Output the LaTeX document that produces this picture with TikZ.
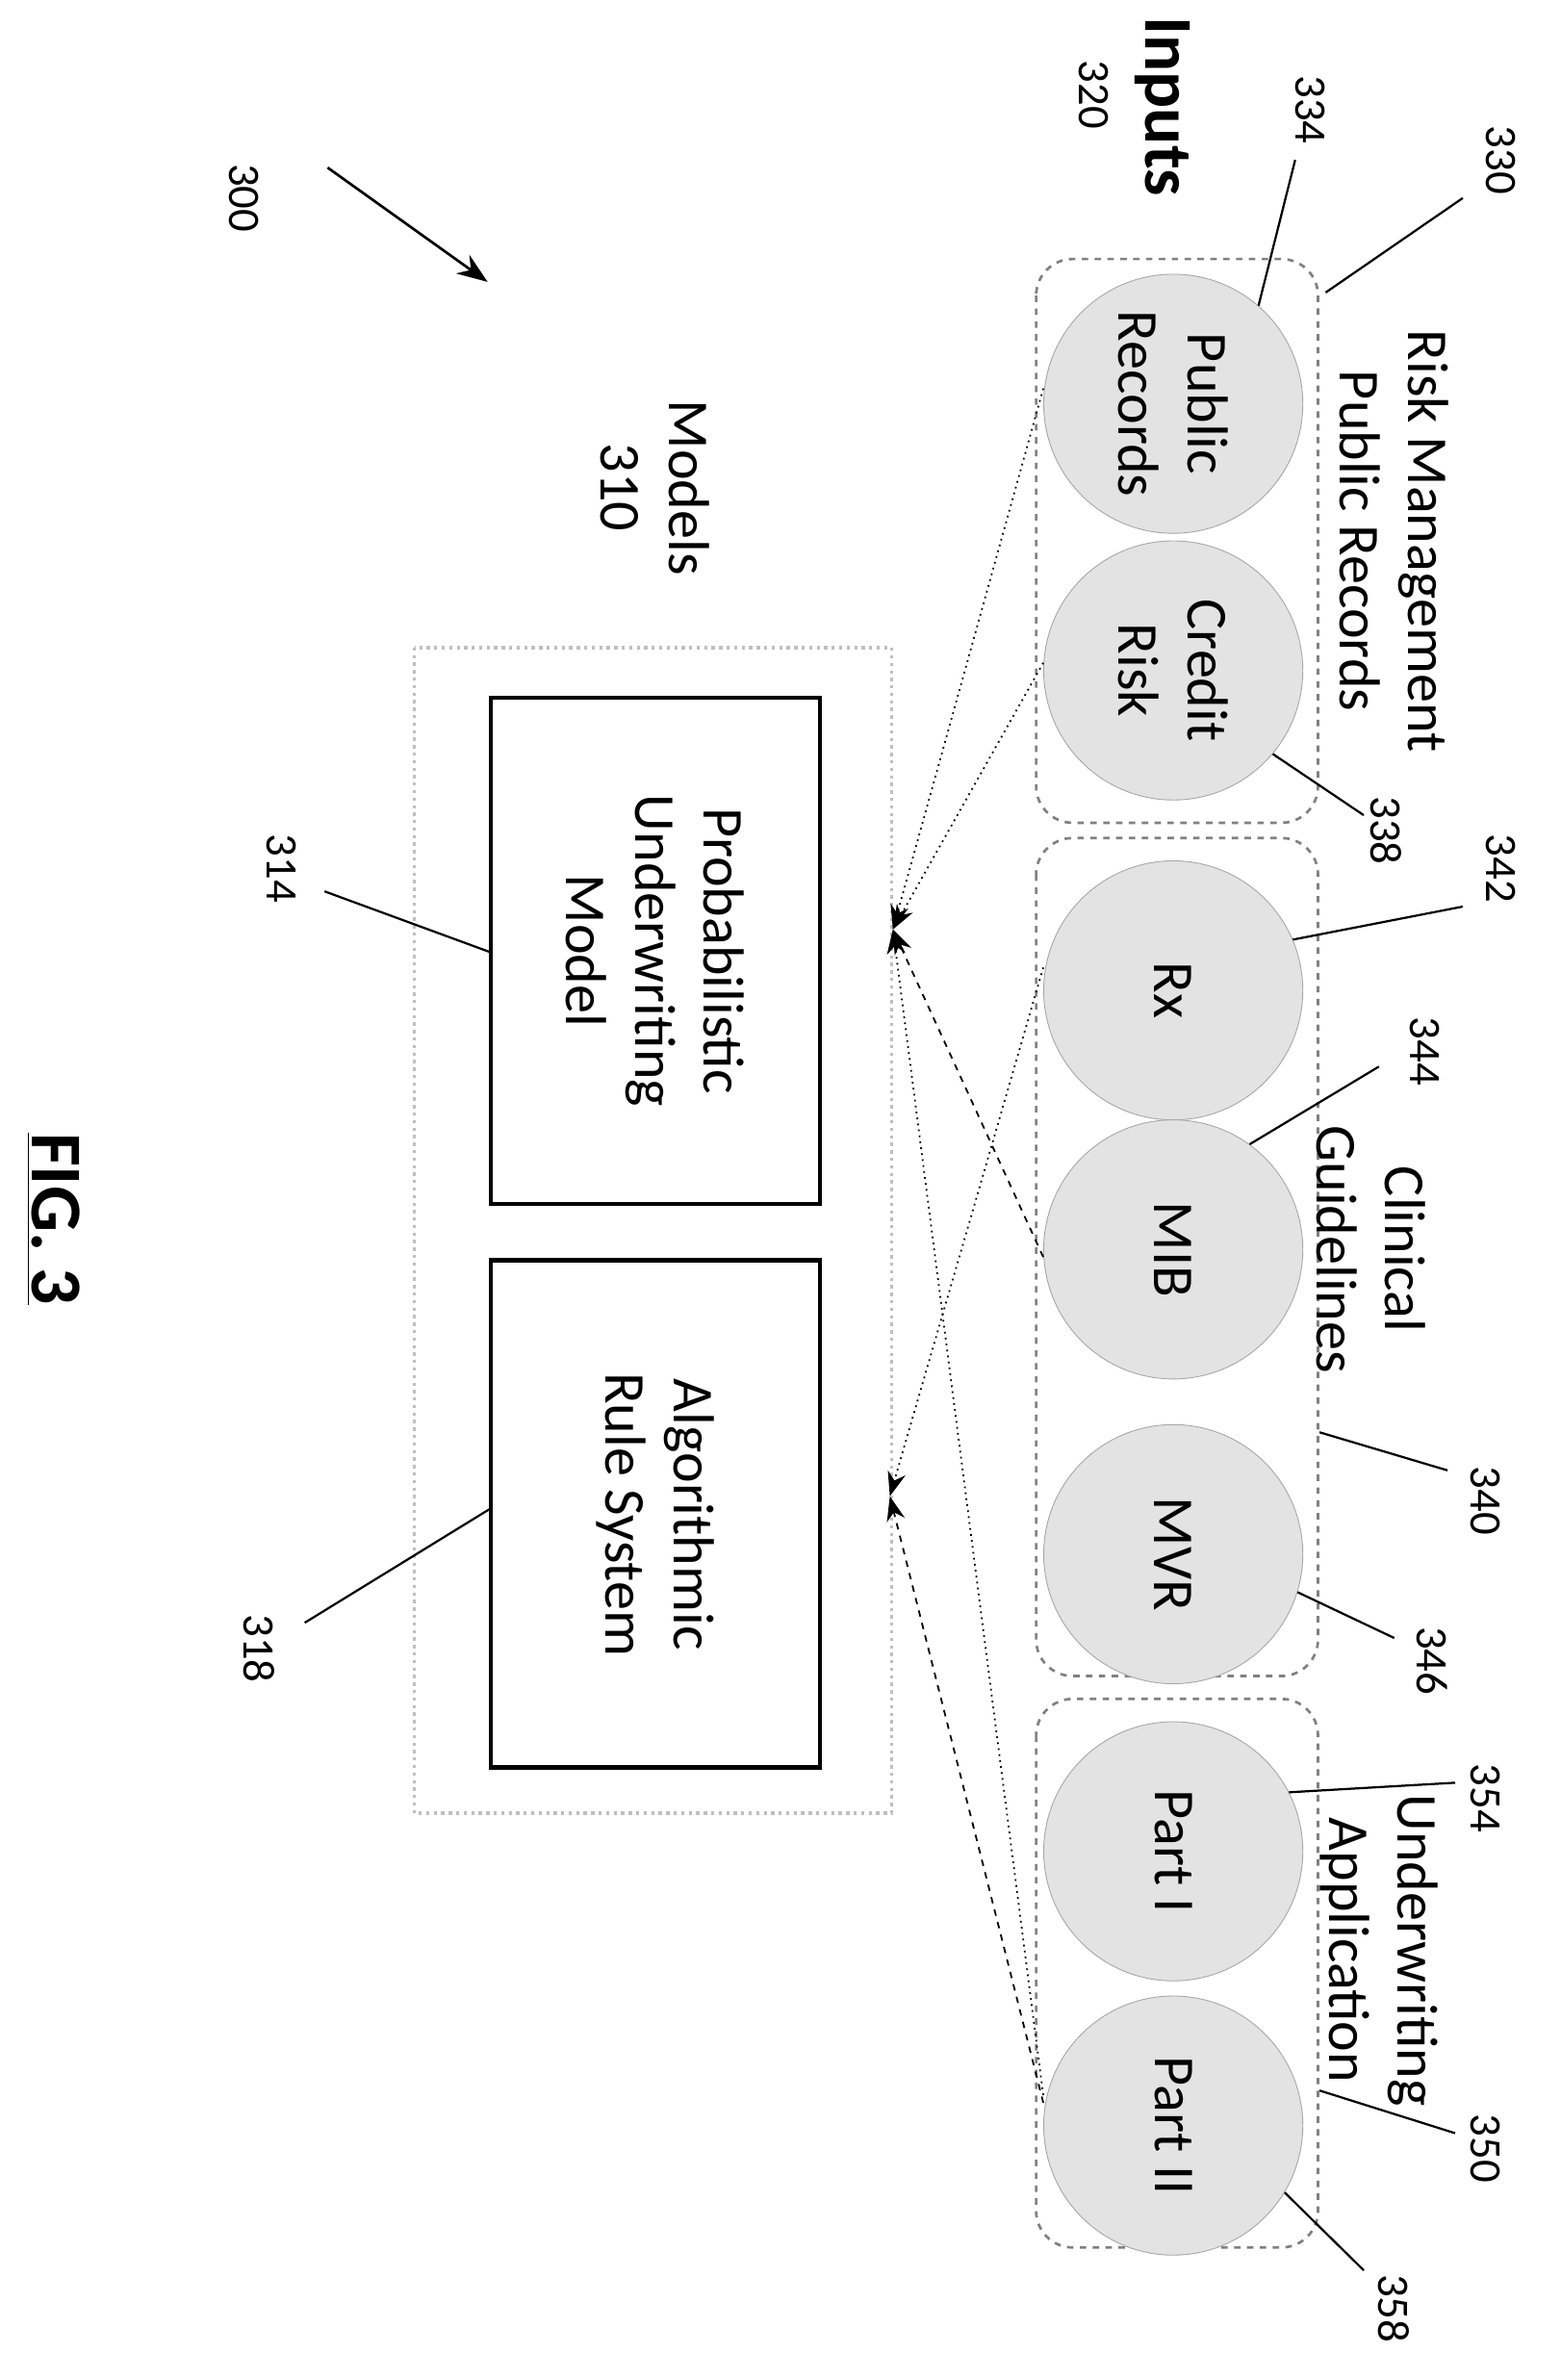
\documentclass[tikz,border=0pt]{standalone}
\usepackage{fontspec}
\setmainfont{Carlito}
\usetikzlibrary{arrows.meta}
\tikzset{
  inp/.style={draw=gray!70, fill=gray!22, circle, minimum size=4.25cm, inner sep=0pt},
  txt/.style={rotate=-90, align=center, font=\fontsize{27}{32}\selectfont},
  num/.style={rotate=-90, font=\fontsize{21}{24}\selectfont},
  grp/.style={draw=gray, dashed, line width=1.2pt, rounded corners=0.6cm},
  mdl/.style={draw, line width=2pt},
  lead/.style={line width=1pt},
  feed/.style={-{Stealth[length=4mm]}, line width=0.8pt}
}
\begin{document}
\begin{tikzpicture}[x=0.025cm, y=-0.025cm]
  \useasboundingbox (0,0) rectangle (1024,1562);
  % groups of inputs
  \draw[grp] (680,170) rectangle (865,540);
  \draw[grp] (680,550) rectangle (865,1100);
  \draw[grp] (680,1115) rectangle (865,1475);
  \node[txt] at (915,355) {Risk Management\\Public Records};
  \node[txt] at (900,820) {Clinical\\Guidelines};
  \node[txt] at (905,1280) {Underwriting\\Application};
  % inputs
  \node[inp] (pr) at (770,265) {};   \node[txt] at (pr) {Public\\Records};
  \node[inp] (cr) at (770,440) {};   \node[txt] at (cr) {Credit\\Risk};
  \node[inp] (rx) at (770,650) {};   \node[txt] at (rx) {Rx};
  \node[inp] (mib) at (770,820) {};  \node[txt] at (mib) {MIB};
  \node[inp] (mvr) at (770,1020) {}; \node[txt] at (mvr) {MVR};
  \node[inp] (p1) at (770,1215) {};  \node[txt] at (p1) {Part I};
  \node[inp] (p2) at (770,1395) {};  \node[txt] at (p2) {Part II};
  \node[rotate=-90, font=\bfseries\fontsize{32}{38}\selectfont] (inputs) at (763,70) {Inputs};
  \node[num] at (718,62) {320};
  % models
  \draw[gray!50, dotted, line width=1.5pt] (272,425) rectangle (585,1190);
  \draw[mdl] (322,458) rectangle (538,790);
  \draw[mdl] (322,827) rectangle (538,1160);
  \node[txt] (pum) at (430,624) {Probabilistic\\Underwriting\\Model};
  \node[txt] (ars) at (430,994) {Algorithmic\\Rule System};
  \node[txt] (models) at (430,320) {Models\\310};
  \coordinate (ta) at (586,610);
  \coordinate (tb) at (584,982);
  % feeds
  \draw[feed, dotted] (pr.west) ++(0,-10) -- (ta);
  \draw[feed, dotted] (cr.west) ++(0,-5) -- (ta);
  \draw[feed, dashed] (mib.west) ++(0,5) -- (ta);
  \draw[feed, dotted] (p2.west) ++(0,-20) -- (ta);
  \draw[feed, dotted] (rx.west) ++(0,-15) -- (tb);
  \draw[feed, dashed] (p2.west) ++(0,-15) -- (tb);
  % reference numbers
  \node[num] (n300) at (160,130) {300};
  \draw[-{Stealth[length=5mm]}, line width=1.2pt] (215,110) -- (320,185);
  \node[num] (n330) at (985,105) {330};   \draw[lead] (870,192) -- (960,130);
  \node[num] (n334) at (860,72) {334};    \draw[lead] (pr.49) -- (850,105);
  \node[num] (n338) at (910,545) {338};   \draw[lead] (cr.-40) -- (895,535);
  \node[num] (n342) at (985,570) {342};   \draw[lead] (rx.23) -- (960,595);
  \node[num] (n344) at (935,690) {344};   \draw[lead] (mib.54) -- (905,700);
  \node[num] (n340) at (975,985) {340};   \draw[lead] (866,940) -- (950,965);
  \node[num] (n346) at (940,1090) {346};  \draw[lead] (mvr.-17) -- (915,1075);
  \node[num] (n354) at (975,1180) {354};  \draw[lead] (p1.27) -- (955,1170);
  \node[num] (n350) at (975,1410) {350};  \draw[lead] (866,1372) -- (955,1400);
  \node[num] (n358) at (915,1515) {358};  \draw[lead] (p2.-31) -- (895,1490);
  \node[num] (n314) at (185,570) {314};   \draw[lead] (322,625) -- (213,585);
  \node[num] (n318) at (170,1082) {318};  \draw[lead] (322,990) -- (200,1065);
  \node[rotate=-90, font=\bfseries\fontsize{34}{40}\selectfont] (fig) at (35,800) {\underline{FIG. 3}};
\end{tikzpicture}
\end{document}
